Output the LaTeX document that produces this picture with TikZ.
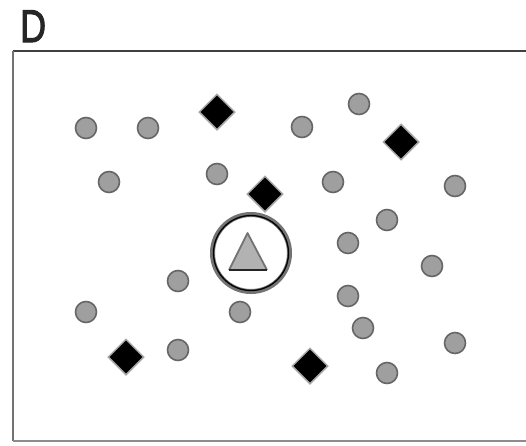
\documentclass[tikz,border=0pt]{standalone}
\usepackage{fontspec}
\setmainfont{Liberation Sans}
\usetikzlibrary{shapes.geometric}
\begin{document}
\begin{tikzpicture}[x=1pt,y=-1pt,
  dot/.style={circle,minimum size=21pt,inner sep=0pt,fill=gray!75,draw=black!60,line width=1.6pt},
  gem/.style={diamond,minimum size=36pt,inner sep=0pt,fill=black,draw=gray!70,line width=1.5pt},
  lbl/.style={font=\fontsize{46}{46}\selectfont,inner sep=0pt,anchor=base west,xscale=0.78,text=black!85}]
\useasboundingbox (0,0) rectangle (526,445);
% frame
\coordinate (tl) at (13,51);
\coordinate (tr) at (526,51);
\coordinate (bl) at (13,441);
\coordinate (br) at (526,441);
\draw[black!75,line width=2pt] (tl) -- (tr);
\draw[black!55,line width=2pt] (tl) -- (bl);
\draw[black!45,line width=1.5pt] (bl) -- (br);
% title
\node[lbl] (title) at (20,42) {\addfontfeatures{FakeBold=2.5}D};
% dots
\foreach \n/\x/\y in {a/86/128, b/148/128, c/302/127, d/359/104, e/109/182, f/217/174,
  g/333/182, h/455/186, i/387/220, j/348/243, k/432/266, l/178/281, m/86/312,
  n/240/312, o/348/296, p/363/328, q/178/350, r/455/343, s/387/373}
  \node[dot] (dot\n) at (\x,\y) {};
% diamonds
\foreach \n/\x/\y in {a/217/112, b/401/142, c/265/194, d/126/357, e/310/366}
  \node[gem] (gem\n) at (\x,\y) {};
% central ring and triangle
\node[circle,minimum size=77pt,inner sep=0pt,draw=black!55,line width=5pt] (ring) at (251,253) {};
\node[circle,minimum size=75pt,inner sep=0pt,draw=black,line width=1.3pt] (ringin) at (251,253) {};
\coordinate (ta) at (247.5,233);
\coordinate (tb) at (229,270);
\coordinate (tc) at (267,270);
\fill[gray!60] (ta) -- (tb) -- (tc) -- cycle;
\draw[black!55,line width=1.8pt,line join=round] (tb) -- (ta) -- (tc);
\draw[black!85,line width=1.3pt] (tb) -- (tc);
\end{tikzpicture}
\end{document}
